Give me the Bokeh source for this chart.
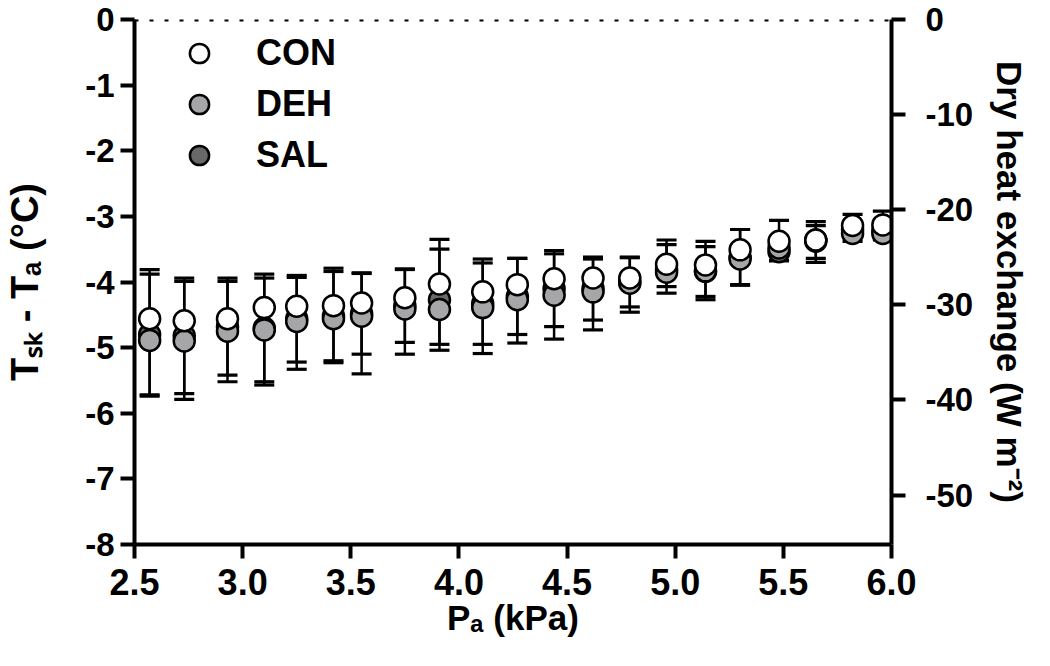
from bokeh.plotting import figure
from bokeh.models import Range1d, LinearAxis, Span, Legend, LegendItem, FixedTicker
from bokeh.embed import file_html
from bokeh.resources import INLINE

# ---------------- data ----------------
pa = [2.57, 2.73, 2.93, 3.10, 3.25, 3.42, 3.55, 3.75, 3.91, 4.11, 4.27,
      4.44, 4.62, 4.79, 4.96, 5.14, 5.30, 5.48, 5.65, 5.82, 5.96]

con_mean = [-4.56, -4.59, -4.56, -4.39, -4.37, -4.36, -4.32, -4.24, -4.03, -4.15, -4.04,
            -3.95, -3.94, -3.94, -3.73, -3.74, -3.51, -3.38, -3.36, -3.14, -3.13]
con_sd = [0.75, 0.60, 0.57, 0.45, 0.44, 0.57, 0.45, 0.43, 0.68, 0.50, 0.40,
          0.38, 0.29, 0.31, 0.37, 0.36, 0.31, 0.32, 0.22, 0.17, 0.21]

deh_mean = [-4.89, -4.90, -4.75, -4.73, -4.60, -4.56, -4.52, -4.41, -4.42, -4.39, -4.27,
            -4.20, -4.15, -4.02, -3.85, -3.83, -3.65, -3.48, -3.38, -3.26, -3.26]
deh_sd = [0.85, 0.89, 0.77, 0.84, 0.73, 0.67, 0.88, 0.69, 0.53, 0.70, 0.66,
          0.67, 0.58, 0.44, 0.22, 0.44, 0.40, 0.19, 0.32, 0.12, 0.10]

sal_mean = [-4.80, -4.82, -4.68, -4.70, -4.56, -4.52, -4.48, -4.36, -4.27, -4.33, -4.22,
            -4.10, -4.10, -4.00, -3.80, -3.84, -3.62, -3.54, -3.36, -3.20, -3.22]
sal_sd = [0.92, 0.88, 0.74, 0.82, 0.66, 0.68, 0.62, 0.56, 0.77, 0.62, 0.58,
          0.58, 0.48, 0.38, 0.37, 0.38, 0.42, 0.14, 0.28, 0.10, 0.08]

x_ticks = [2.5, 3.0, 3.5, 4.0, 4.5, 5.0, 5.5, 6.0]
y_ticks = [0, -1, -2, -3, -4, -5, -6, -7, -8]
w_ticks = [0, -10, -20, -30, -40, -50]

series_names = ["CON", "DEH", "SAL"]
x_title = "Pₐ (kPa)"
y_title = "Tₛₖ - Tₐ (°C)"
w_title = "Dry heat exchange (W m⁻²)"
x_range = (2.5, 6.0)
y_range = (-8.0, 0.0)
w_range = (-55.2, 0.0)

# ---------------- styling ----------------
FONT = "Liberation Sans"
C_CON, C_DEH, C_SAL = "#ffffff", "#a6a6a9", "#686868"

W, H = 1034, 650
BL, BR, BT, BB = 134, 143, 19, 106

p = figure(width=W, height=H, output_backend="svg", toolbar_location=None,
           x_range=Range1d(*x_range), y_range=Range1d(*y_range),
           min_border_left=BL, min_border_right=BR, min_border_top=BT,
           min_border_bottom=BB)
p.extra_y_ranges = {"w": Range1d(*w_range)}
p.grid.visible = False
p.outline_line_color = None
p.background_fill_color = "white"
p.border_fill_color = "white"

p.xaxis.ticker = FixedTicker(ticks=x_ticks)
p.xaxis.major_label_overrides = {t: f"{t:.1f}" for t in x_ticks}
p.yaxis.ticker = FixedTicker(ticks=y_ticks)
p.yaxis.major_label_overrides = {t: f"{t:d}" for t in y_ticks}

right_axis = LinearAxis(y_range_name="w", ticker=FixedTicker(ticks=w_ticks))
right_axis.major_label_overrides = {t: f"{t:d}" for t in w_ticks}
p.add_layout(right_axis, "right")

p.xaxis.axis_label = x_title
p.yaxis.axis_label = y_title
right_axis.axis_label = w_title

for ax, fs, so, tfs, tso in [(p.xaxis[0], "36px", 10, "35px", 0),
                             (p.yaxis[0], "33px", 6, "38px", 36),
                             (right_axis, "33px", 20, "35px", 14)]:
    ax.axis_line_width = 4
    ax.axis_line_color = "black"
    ax.major_tick_line_width = 4
    ax.major_tick_line_color = "black"
    ax.major_tick_out = 14
    ax.major_tick_in = 0
    ax.minor_tick_line_color = None
    ax.major_label_text_font = FONT
    ax.major_label_text_font_style = "bold"
    ax.major_label_text_font_size = fs
    ax.major_label_text_color = "black"
    ax.major_label_standoff = so
    ax.axis_label_text_font = FONT
    ax.axis_label_text_font_style = "bold"
    ax.axis_label_text_font_size = tfs
    ax.axis_label_text_color = "black"
    ax.axis_label_standoff = tso

# dotted zero line
p.add_layout(Span(location=0, dimension="width", line_color="black", line_width=4,
                  line_dash="4 11"))

# ---------------- error bars ----------------
def bars(x, m, sd, up=True, down=True):
    if up:
        hi = [a + b for a, b in zip(m, sd)]
        p.segment(x0=x, y0=m, x1=x, y1=hi, line_color="black", line_width=2.5)
        p.scatter(x=x, y=hi, marker="dash", size=20, line_color="black", line_width=3.2)
    if down:
        lo = [a - b for a, b in zip(m, sd)]
        p.segment(x0=x, y0=m, x1=x, y1=lo, line_color="black", line_width=2.5)
        p.scatter(x=x, y=lo, marker="dash", size=20, line_color="black", line_width=3.2)

bars(pa, sal_mean, sal_sd, True, True)
bars(pa, deh_mean, deh_sd, False, True)
bars(pa, con_mean, con_sd, True, False)

# ---------------- points ----------------
r_sal = p.scatter(x=pa, y=sal_mean, marker="circle", size=21, fill_color=C_SAL,
                  line_color="black", line_width=2.5)
r_deh = p.scatter(x=pa, y=deh_mean, marker="circle", size=21, fill_color=C_DEH,
                  line_color="black", line_width=2.5)
r_con = p.scatter(x=pa, y=con_mean, marker="circle", size=21, fill_color=C_CON,
                  line_color="black", line_width=2.5)

legend = Legend(items=[LegendItem(label=series_names[0], renderers=[r_con]),
                       LegendItem(label=series_names[1], renderers=[r_deh]),
                       LegendItem(label=series_names[2], renderers=[r_sal])],
                location="top_left", glyph_width=110, glyph_height=48, label_standoff=2,
                spacing=3, padding=0, margin=10, border_line_color=None,
                background_fill_alpha=0, label_text_font=FONT,
                label_text_font_style="bold", label_text_font_size="36px",
                label_text_color="black", label_height=48)
p.add_layout(legend)

open("out.html", "w").write(file_html(p, INLINE))
